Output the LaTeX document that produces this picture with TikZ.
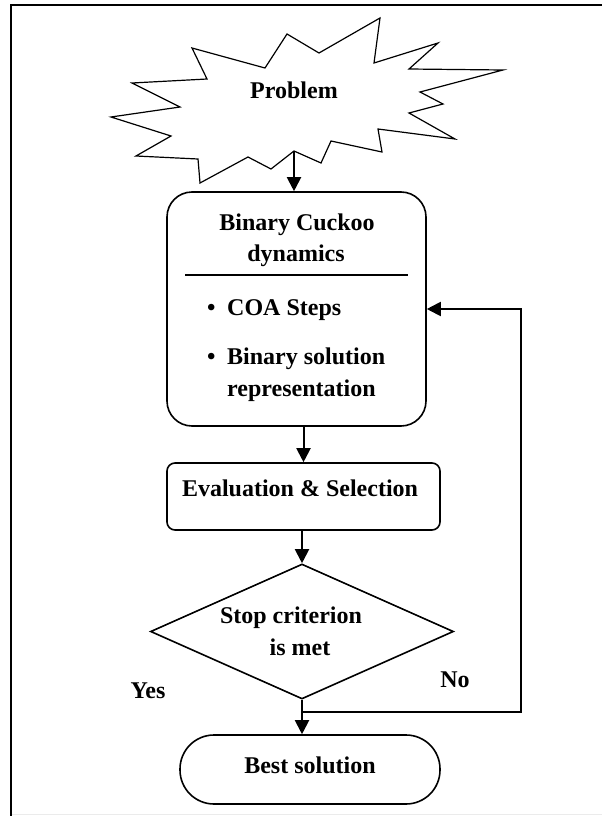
\documentclass[tikz,border=0pt]{standalone}
\usepackage{fontspec}
\setmainfont{Liberation Serif}
\usetikzlibrary{arrows.meta,shapes.geometric,calc}
\begin{document}
\begin{tikzpicture}[x=1pt,y=-1pt,
  every node/.style={font=\fontsize{24}{28}\selectfont\bfseries, inner sep=0pt},
  lbl/.style={anchor=base},
  boxr/.style={draw, line width=1.6pt, rounded corners=#1},
  flow/.style={line width=2pt, -{Triangle[length=14pt,width=14pt]}},
  plain/.style={line width=2pt}]
\useasboundingbox (0,0) rectangle (602,816);
% frame
\draw[line width=2pt] (11,816) -- (11,5) -- (602,5);
\draw[black!8, line width=1pt] (12,814.5) -- (602,814.5);
% starburst
\draw[line width=1.2pt, line join=miter]
 (287,34) -- (319,53) -- (380,18) -- (374,63) -- (438,43) -- (409,69) -- (503,70)
 -- (420,92) -- (443,104) -- (409,113) -- (455,139) -- (378,129) -- (382,152)
 -- (331,141) -- (321,163) -- (294,151) -- (271,169) -- (248,157) -- (200,183)
 -- (198,159) -- (136,156) -- (171,136) -- (111,117) -- (180,107) -- (132,83)
 -- (207,79) -- (192,48) -- (265,68) -- cycle;
\coordinate (pb) at (294,151);
\node[lbl] (tprob) at (294,98) {Problem};
% box 1
\node[boxr=25pt, minimum width=259pt, minimum height=234pt] (box1) at (296.5,309) {};
\node[lbl] (t1a) at (297,230.5) {Binary Cuckoo};
\node[lbl] (t1b) at (296,261.5) {dynamics};
\draw[line width=1.6pt] (185,275) -- (408,275);
\node[anchor=base west] (t1c) at (207,315) {\makebox[20pt][l]{\textbullet}COA Steps};
\node[anchor=base west] (t1d) at (207,364) {\makebox[20pt][l]{\textbullet}Binary solution};
\node[anchor=base west] (t1e) at (227,396.5) {representation};
% evaluation
\node[boxr=8pt, minimum width=273pt, minimum height=67pt] (eval) at (303.5,496.5) {};
\node[lbl] (t2) at (300,496) {Evaluation \& Selection};
% diamond
\node[diamond, draw, line width=1.6pt, minimum width=303pt, minimum height=135pt] (dia) at (302,631.5) {};
\node[lbl] (t3a) at (291,623) {Stop criterion};
\node[lbl] (t3b) at (300,655) {is met};
% best
\node[boxr=34pt, minimum width=260pt, minimum height=69pt] (best) at (310,769.5) {};
\node[lbl] (t4) at (310,773) {Best solution};
% labels
\node[lbl] (yes) at (148,698) {Yes};
\node[lbl] (no) at (455,687) {No};
% connectors
\draw[flow] (pb) -- (pb |- box1.north);
\draw[flow] (eval.north |- box1.south) -- (eval.north);
\draw[flow] (dia.north |- eval.south) -- (dia.north);
\draw[flow] (dia.south) -- (dia.south |- best.north);
\coordinate (nb) at (302,712);
\coordinate (nr) at (521,712);
\draw[flow] (nb) -- (nr) -- (nr |- box1.east) -- (box1.east);
\end{tikzpicture}
\end{document}
